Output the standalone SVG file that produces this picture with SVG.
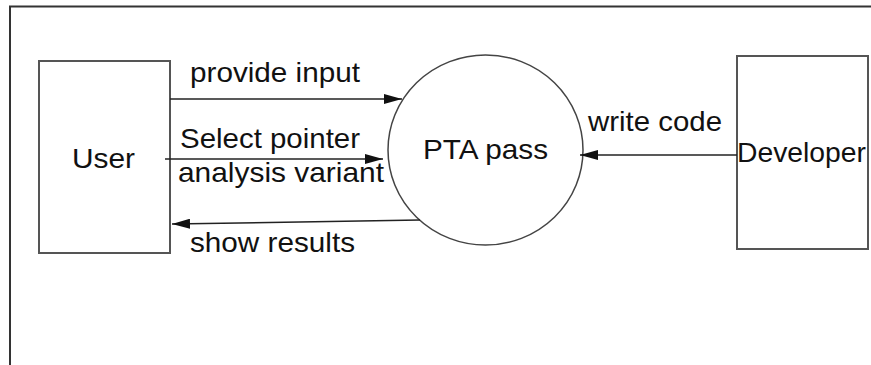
<svg xmlns="http://www.w3.org/2000/svg" width="871" height="365" viewBox="0 0 871 365">
  <style>
    .frame { stroke: #333; stroke-width: 2; fill: none; }
    .box { fill: #fff; stroke: #555; stroke-width: 2; }
    .proc { fill: #fff; stroke: #444; stroke-width: 1.5; }
    .flow { stroke: #222; stroke-width: 1.5; fill: none; }
    text { font-family: "Liberation Sans", Arial, sans-serif; font-size: 28.5px; fill: #111; }
  </style>
  <defs>
    <marker id="arrow" viewBox="0 0 18 10" refX="18" refY="5" markerWidth="18" markerHeight="10" markerUnits="userSpaceOnUse" orient="auto">
      <path d="M0,0 L18,5 L0,10 z" fill="#111"/>
    </marker>
  </defs>
  <rect width="871" height="365" fill="#fff"/>
  <!-- page border -->
  <path class="frame" d="M10,365 V6.5 H871"/>

  <g id="user">
    <rect class="box" x="39" y="61" width="131" height="192"/>
    <text x="72" y="168" textLength="63" lengthAdjust="spacingAndGlyphs">User</text>
  </g>

  <g id="pta-pass">
    <ellipse class="proc" cx="485.5" cy="150" rx="97.5" ry="95"/>
    <text x="423" y="159" textLength="125" lengthAdjust="spacingAndGlyphs">PTA pass</text>
  </g>

  <g id="developer">
    <rect class="box" x="737" y="56" width="131" height="193"/>
    <text x="737" y="162" textLength="129" lengthAdjust="spacingAndGlyphs">Developer</text>
  </g>

  <g id="connectors">
    <line class="flow" x1="170" y1="99" x2="402" y2="99" marker-end="url(#arrow)"/>
    <line class="flow" x1="165" y1="159" x2="383" y2="159" marker-end="url(#arrow)"/>
    <line class="flow" x1="420" y1="220" x2="172" y2="224" marker-end="url(#arrow)"/>
    <line class="flow" x1="737" y1="155" x2="580" y2="155" marker-end="url(#arrow)"/>
    <text x="190" y="82" textLength="170" lengthAdjust="spacingAndGlyphs">provide input</text>
    <text x="180" y="148" textLength="180" lengthAdjust="spacingAndGlyphs">Select pointer</text>
    <text x="178" y="182" textLength="206" lengthAdjust="spacingAndGlyphs">analysis variant</text>
    <text x="190" y="252" textLength="165" lengthAdjust="spacingAndGlyphs">show results</text>
    <text x="588" y="131" textLength="134" lengthAdjust="spacingAndGlyphs">write code</text>
  </g>
</svg>
